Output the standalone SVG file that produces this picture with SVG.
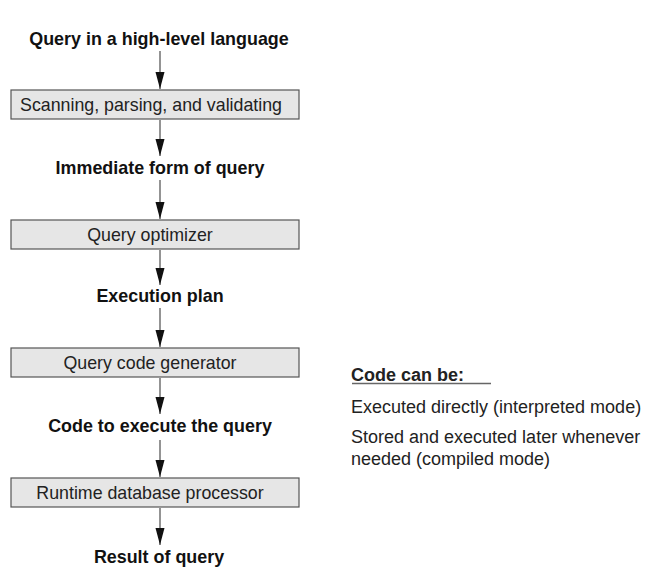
<svg xmlns="http://www.w3.org/2000/svg" width="647" height="577" viewBox="0 0 647 577">
<defs>
<style>
.box{fill:#e6e6e6;stroke:#555;stroke-width:1.2}
.bt{font-family:"Liberation Sans",Arial,sans-serif;font-size:17.8px;fill:#222;text-anchor:middle}
.lb{font-family:"Liberation Sans",Arial,sans-serif;font-size:17.9px;font-weight:bold;fill:#111;text-anchor:middle}
.rt{font-family:"Liberation Sans",Arial,sans-serif;font-size:18px;fill:#222}
.ln{stroke:#666;stroke-width:1.4;fill:none}
</style>
<marker id="a" viewBox="0 0 17 10" refX="17" refY="5" markerWidth="17" markerHeight="10" markerUnits="userSpaceOnUse" orient="auto">
<path d="M0,0.5 L17,5 L0,9.5 Z" fill="#111"/>
</marker>
</defs>
<rect width="647" height="577" fill="#fff"/>
<g id="connectors">
<line class="ln" x1="160" y1="51" x2="160" y2="89" marker-end="url(#a)"/>
<line class="ln" x1="160" y1="120" x2="160" y2="156" marker-end="url(#a)"/>
<line class="ln" x1="160" y1="180" x2="160" y2="219" marker-end="url(#a)"/>
<line class="ln" x1="160" y1="250" x2="160" y2="285" marker-end="url(#a)"/>
<line class="ln" x1="160" y1="308" x2="160" y2="347" marker-end="url(#a)"/>
<line class="ln" x1="160" y1="378" x2="160" y2="414" marker-end="url(#a)"/>
<line class="ln" x1="160" y1="440" x2="160" y2="477" marker-end="url(#a)"/>
<line class="ln" x1="160" y1="508" x2="160" y2="545" marker-end="url(#a)"/>
</g>
<g id="label-query"><text class="lb" x="159" y="45">Query in a high-level language</text></g>
<g id="box-scanning"><rect class="box" x="11" y="90" width="288" height="29"/><text class="bt" x="151" y="111">Scanning, parsing, and validating</text></g>
<g id="label-immediate"><text class="lb" x="160" y="174">Immediate form of query</text></g>
<g id="box-optimizer"><rect class="box" x="11" y="220" width="288" height="29"/><text class="bt" x="150" y="241">Query optimizer</text></g>
<g id="label-plan"><text class="lb" x="160" y="302">Execution plan</text></g>
<g id="box-codegen"><rect class="box" x="11" y="348" width="288" height="29"/><text class="bt" x="150" y="369">Query code generator</text></g>
<g id="label-code"><text class="lb" x="160" y="432">Code to execute the query</text></g>
<g id="box-runtime"><rect class="box" x="11" y="478" width="288" height="29"/><text class="bt" x="150" y="499">Runtime database processor</text></g>
<g id="label-result"><text class="lb" x="159" y="563">Result of query</text></g>
<g id="note">
<text class="rt" x="351" y="381" font-weight="bold">Code can be:</text>
<line x1="352" y1="383.5" x2="491" y2="383.5" stroke="#666" stroke-width="1.4"/>
<text class="rt" x="351" y="413">Executed directly (interpreted mode)</text>
<text class="rt" x="351" y="443">Stored and executed later whenever</text>
<text class="rt" x="351" y="465">needed (compiled mode)</text>
</g>
</svg>
